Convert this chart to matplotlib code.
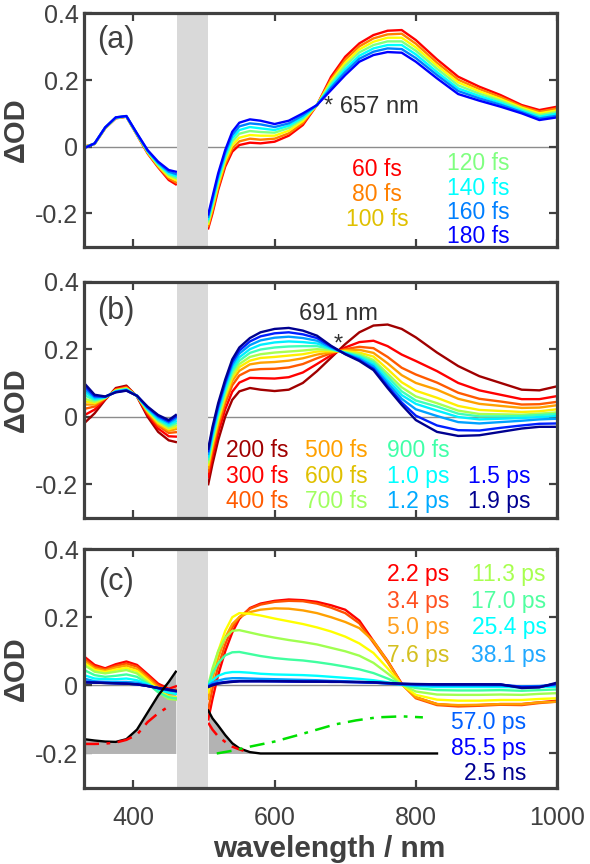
import matplotlib
matplotlib.use('Agg')
import matplotlib.pyplot as plt

plt.rcParams['font.family'] = ['Liberation Sans', 'DejaVu Sans']

# ---------------- data ----------------
WL_LEFT = [330, 345, 360, 375, 390, 405, 420, 435, 450, 460]
WL_RIGHT = [506, 512, 520, 530, 540, 550, 565, 580, 600, 620, 640, 660, 680,
            700, 720, 740, 760, 780, 800, 830, 860, 890, 920, 950, 975, 1000]
BAND = (462, 506)
XTICKS = [400, 600, 800, 1000]
YTICKS = [-0.2, 0, 0.2, 0.4]
YTICKLABELS = ['-0.2', '0', '0.2', '0.4']

# panel (a)
A_LABELS = ['60 fs', '80 fs', '100 fs', '120 fs', '140 fs', '160 fs', '180 fs']
A_LINE_COLORS = ['#ff0000', '#ff8000', '#ffff00', '#80ff80', '#00ffff', '#0080ff', '#0000ff']
A_TEXT_COLORS = ['#ff0000', '#ff8000', '#e0c000', '#80ff80', '#00ffff', '#0080ff', '#0000ff']
A_LEFT = [
    [0.0, 0.008, 0.055, 0.085, 0.09, 0.035, -0.02, -0.062, -0.1, -0.113],
    [0.0, 0.008, 0.056, 0.086, 0.09, 0.036, -0.018, -0.06, -0.095, -0.107],
    [-0.002, 0.009, 0.056, 0.086, 0.091, 0.037, -0.017, -0.057, -0.09, -0.1],
    [-0.002, 0.009, 0.057, 0.087, 0.091, 0.037, -0.015, -0.054, -0.085, -0.094],
    [-0.003, 0.009, 0.057, 0.087, 0.091, 0.038, -0.013, -0.051, -0.08, -0.088],
    [-0.004, 0.01, 0.058, 0.088, 0.092, 0.039, -0.012, -0.048, -0.075, -0.082],
    [-0.005, 0.01, 0.058, 0.088, 0.092, 0.04, -0.01, -0.045, -0.07, -0.075],
]
A_RIGHT = [
    [-0.245, -0.2, -0.13, -0.06, -0.015, 0.005, 0.012, 0.01, 0.015, 0.033, 0.065, 0.125, 0.21,
     0.27, 0.31, 0.335, 0.348, 0.35, 0.32, 0.262, 0.21, 0.18, 0.155, 0.125, 0.11, 0.12],
    [-0.238, -0.192, -0.122, -0.052, -0.005, 0.016, 0.024, 0.021, 0.024, 0.04, 0.071, 0.125, 0.203,
     0.261, 0.301, 0.325, 0.337, 0.339, 0.309, 0.252, 0.201, 0.173, 0.149, 0.121, 0.105, 0.115],
    [-0.231, -0.183, -0.113, -0.043, 0.005, 0.027, 0.035, 0.033, 0.033, 0.048, 0.077, 0.125, 0.197,
     0.252, 0.292, 0.315, 0.327, 0.327, 0.298, 0.243, 0.193, 0.166, 0.143, 0.117, 0.1, 0.109],
    [-0.224, -0.175, -0.105, -0.035, 0.015, 0.039, 0.047, 0.044, 0.042, 0.056, 0.083, 0.125, 0.19,
     0.243, 0.283, 0.305, 0.316, 0.316, 0.288, 0.234, 0.184, 0.159, 0.138, 0.113, 0.095, 0.104],
    [-0.217, -0.167, -0.097, -0.027, 0.025, 0.05, 0.059, 0.055, 0.05, 0.063, 0.088, 0.125, 0.183,
     0.233, 0.273, 0.295, 0.305, 0.305, 0.277, 0.224, 0.175, 0.152, 0.132, 0.108, 0.09, 0.099],
    [-0.21, -0.158, -0.088, -0.018, 0.035, 0.061, 0.07, 0.067, 0.059, 0.07, 0.094, 0.125, 0.177,
     0.224, 0.264, 0.285, 0.295, 0.293, 0.266, 0.215, 0.167, 0.145, 0.126, 0.104, 0.085, 0.093],
    [-0.203, -0.15, -0.08, -0.01, 0.045, 0.072, 0.082, 0.078, 0.068, 0.078, 0.1, 0.125, 0.17,
     0.215, 0.255, 0.275, 0.284, 0.282, 0.255, 0.205, 0.158, 0.138, 0.12, 0.1, 0.08, 0.088],
]

# panel (b)
B_LABELS = ['200 fs', '300 fs', '400 fs', '500 fs', '600 fs', '700 fs',
            '900 fs', '1.0 ps', '1.2 ps', '1.5 ps', '1.9 ps']
B_LINE_COLORS = ['#a00000', '#ff0000', '#ff5a00', '#ffa000', '#ffee00', '#a8ff50',
                 '#40ffb8', '#00f0ff', '#00a0ff', '#0020ff', '#000090']
B_TEXT_COLORS = ['#a00000', '#ff0000', '#ff5a00', '#ffa000', '#e0c000', '#a0ff60',
                 '#40ffa8', '#00ffff', '#00aaff', '#0000ff', '#000090']
B_LEFT = [
    [-0.02, 0.01, 0.05, 0.085, 0.092, 0.06, 0.0, -0.045, -0.07, -0.075],
    [0.004, 0.021, 0.052, 0.082, 0.089, 0.06, 0.006, -0.035, -0.058, -0.059],
    [0.023, 0.03, 0.054, 0.08, 0.087, 0.061, 0.011, -0.027, -0.048, -0.046],
    [0.036, 0.036, 0.055, 0.079, 0.085, 0.061, 0.014, -0.022, -0.042, -0.037],
    [0.046, 0.04, 0.056, 0.078, 0.084, 0.061, 0.017, -0.018, -0.037, -0.031],
    [0.054, 0.044, 0.056, 0.077, 0.083, 0.061, 0.019, -0.014, -0.033, -0.025],
    [0.064, 0.049, 0.057, 0.076, 0.082, 0.061, 0.021, -0.01, -0.028, -0.019],
    [0.074, 0.053, 0.058, 0.075, 0.08, 0.062, 0.023, -0.006, -0.023, -0.013],
    [0.083, 0.057, 0.059, 0.074, 0.079, 0.062, 0.026, -0.002, -0.018, -0.006],
    [0.092, 0.061, 0.059, 0.073, 0.078, 0.062, 0.028, 0.002, -0.014, 0.0],
    [0.1, 0.065, 0.06, 0.072, 0.077, 0.062, 0.03, 0.005, -0.01, 0.005],
]
B_RIGHT = [
    [-0.2, -0.14, -0.07, 0.0, 0.05, 0.075, 0.085, 0.08, 0.076, 0.08, 0.1, 0.135, 0.175,
     0.215, 0.25, 0.27, 0.273, 0.26, 0.235, 0.19, 0.15, 0.12, 0.1, 0.08, 0.078, 0.09],
    [-0.179, -0.118, -0.048, 0.022, 0.074, 0.101, 0.115, 0.114, 0.113, 0.117, 0.131, 0.156, 0.182,
     0.205, 0.221, 0.225, 0.209, 0.184, 0.165, 0.135, 0.1, 0.078, 0.065, 0.052, 0.052, 0.061],
    [-0.162, -0.1, -0.03, 0.04, 0.093, 0.122, 0.138, 0.141, 0.142, 0.146, 0.156, 0.173, 0.188,
     0.2, 0.207, 0.203, 0.177, 0.145, 0.125, 0.101, 0.071, 0.053, 0.045, 0.036, 0.037, 0.044],
    [-0.151, -0.088, -0.018, 0.052, 0.106, 0.136, 0.155, 0.16, 0.162, 0.166, 0.173, 0.184, 0.191,
     0.197, 0.198, 0.189, 0.158, 0.123, 0.1, 0.08, 0.053, 0.038, 0.032, 0.026, 0.027, 0.034],
    [-0.142, -0.08, -0.01, 0.06, 0.116, 0.147, 0.166, 0.174, 0.177, 0.181, 0.185, 0.193, 0.194,
     0.194, 0.19, 0.178, 0.141, 0.102, 0.077, 0.056, 0.032, 0.02, 0.017, 0.014, 0.016, 0.022],
    [-0.135, -0.072, -0.002, 0.068, 0.124, 0.156, 0.177, 0.185, 0.19, 0.193, 0.196, 0.2, 0.197,
     0.192, 0.185, 0.168, 0.128, 0.087, 0.06, 0.04, 0.018, 0.008, 0.007, 0.006, 0.009, 0.013],
    [-0.126, -0.063, 0.007, 0.077, 0.134, 0.166, 0.189, 0.199, 0.205, 0.208, 0.209, 0.209, 0.2,
     0.19, 0.18, 0.162, 0.119, 0.075, 0.048, 0.03, 0.009, 0.001, 0.001, 0.002, 0.005, 0.008],
    [-0.118, -0.054, 0.016, 0.086, 0.144, 0.176, 0.2, 0.213, 0.22, 0.223, 0.221, 0.217, 0.202,
     0.189, 0.176, 0.155, 0.109, 0.064, 0.038, 0.018, -0.001, -0.008, -0.006, -0.004, -0.001, 0.002],
    [-0.11, -0.045, 0.025, 0.095, 0.153, 0.187, 0.212, 0.226, 0.234, 0.237, 0.233, 0.225, 0.205,
     0.187, 0.172, 0.149, 0.1, 0.053, 0.022, 0.002, -0.016, -0.02, -0.016, -0.012, -0.008, -0.006],
    [-0.102, -0.038, 0.032, 0.102, 0.162, 0.196, 0.223, 0.238, 0.247, 0.25, 0.244, 0.233, 0.208,
     0.186, 0.168, 0.142, 0.091, 0.042, 0.003, -0.026, -0.04, -0.041, -0.033, -0.026, -0.021, -0.02],
    [-0.095, -0.03, 0.04, 0.11, 0.17, 0.205, 0.233, 0.25, 0.26, 0.263, 0.255, 0.24, 0.21,
     0.185, 0.165, 0.138, 0.085, 0.035, -0.01, -0.045, -0.057, -0.055, -0.045, -0.035, -0.03, -0.03],
]

# panel (c)
C_LABELS = ['2.2 ps', '3.4 ps', '5.0 ps', '7.6 ps', '11.3 ps', '17.0 ps', '25.4 ps',
            '38.1 ps', '57.0 ps', '85.5 ps', '2.5 ns']
C_LINE_COLORS = ['#ff0000', '#ff5000', '#ffa000', '#ffff00', '#a0ff50', '#40ffa0',
                 '#00ffff', '#00a0ff', '#0050ff', '#0000e0', '#000090']
C_TEXT_COLORS = ['#ff0000', '#ff5020', '#ffa020', '#d4c020', '#a8ff50', '#50ffa0',
                 '#00ffff', '#20a8ff', '#0060ff', '#0000ff', '#000090']
C_LEFT = [
    [0.085, 0.06, 0.05, 0.062, 0.07, 0.06, 0.033, 0.005, -0.01, -0.003],
    [0.078, 0.055, 0.047, 0.057, 0.064, 0.055, 0.028, 0.0, -0.017, -0.013],
    [0.072, 0.05, 0.043, 0.052, 0.058, 0.048, 0.022, -0.006, -0.025, -0.025],
    [0.066, 0.045, 0.039, 0.046, 0.051, 0.042, 0.016, -0.013, -0.033, -0.035],
    [0.06, 0.04, 0.035, 0.04, 0.045, 0.035, 0.01, -0.02, -0.04, -0.042],
    [0.045, 0.03, 0.025, 0.028, 0.032, 0.025, 0.005, -0.02, -0.035, -0.038],
    [0.03, 0.02, 0.018, 0.018, 0.02, 0.015, 0.003, -0.012, -0.022, -0.025],
    [0.02, 0.012, 0.01, 0.01, 0.01, 0.008, 0.0, -0.008, -0.015, -0.018],
    [0.012, 0.008, 0.007, 0.006, 0.005, 0.003, -0.002, -0.008, -0.013, -0.017],
    [0.01, 0.008, 0.007, 0.006, 0.005, 0.003, -0.002, -0.008, -0.013, -0.017],
    [0.008, 0.008, 0.007, 0.006, 0.005, 0.003, -0.002, -0.008, -0.013, -0.016],
]
C_RIGHT = [
    [-0.1, -0.04, 0.03, 0.1, 0.155, 0.195, 0.227, 0.24, 0.248, 0.252, 0.25, 0.245, 0.235,
     0.222, 0.19, 0.13, 0.072, 0.005, -0.035, -0.055, -0.06, -0.058, -0.055, -0.055, -0.05, -0.045],
    [-0.07, -0.01, 0.055, 0.12, 0.17, 0.2, 0.225, 0.237, 0.245, 0.248, 0.247, 0.24, 0.228,
     0.212, 0.182, 0.125, 0.068, 0.004, -0.038, -0.058, -0.062, -0.06, -0.057, -0.058, -0.052, -0.048],
    [-0.04, 0.02, 0.08, 0.14, 0.18, 0.2, 0.215, 0.222, 0.226, 0.225, 0.22, 0.212, 0.2,
     0.186, 0.168, 0.13, 0.07, 0.003, -0.035, -0.055, -0.058, -0.057, -0.055, -0.055, -0.05, -0.048],
    [-0.02, 0.04, 0.1, 0.16, 0.2, 0.212, 0.21, 0.205, 0.196, 0.188, 0.18, 0.17, 0.158,
     0.143, 0.123, 0.095, 0.05, 0.002, -0.028, -0.042, -0.045, -0.045, -0.043, -0.043, -0.04, -0.038],
    [0.0, 0.05, 0.1, 0.14, 0.16, 0.162, 0.155, 0.148, 0.14, 0.133, 0.127, 0.12, 0.11,
     0.1, 0.087, 0.066, 0.035, 0.002, -0.018, -0.027, -0.028, -0.028, -0.027, -0.028, -0.025, -0.023],
    [0.0, 0.035, 0.065, 0.088, 0.097, 0.098, 0.092, 0.086, 0.08, 0.076, 0.073, 0.068, 0.062,
     0.055, 0.047, 0.036, 0.02, 0.002, -0.008, -0.014, -0.015, -0.015, -0.014, -0.016, -0.014, -0.012],
    [0.0, 0.015, 0.028, 0.036, 0.039, 0.039, 0.037, 0.034, 0.032, 0.031, 0.03, 0.028, 0.025,
     0.022, 0.019, 0.015, 0.009, 0.002, -0.002, -0.005, -0.005, -0.005, -0.005, -0.006, -0.005, -0.004],
    [0.0, 0.008, 0.014, 0.019, 0.021, 0.021, 0.02, 0.019, 0.018, 0.017, 0.016, 0.015, 0.013,
     0.012, 0.01, 0.008, 0.005, 0.002, 0.0, -0.001, -0.001, -0.001, -0.001, -0.003, -0.002, 0.0],
    [-0.003, 0.003, 0.007, 0.01, 0.012, 0.013, 0.013, 0.013, 0.012, 0.012, 0.012, 0.011, 0.011,
     0.01, 0.009, 0.008, 0.006, 0.004, 0.003, 0.002, 0.002, 0.002, 0.002, -0.004, -0.003, 0.004],
    [-0.004, 0.002, 0.006, 0.009, 0.011, 0.012, 0.012, 0.012, 0.012, 0.011, 0.011, 0.011, 0.01,
     0.01, 0.009, 0.008, 0.006, 0.004, 0.003, 0.003, 0.003, 0.003, 0.002, -0.006, -0.005, 0.005],
    [-0.005, 0.0, 0.005, 0.008, 0.01, 0.012, 0.012, 0.012, 0.012, 0.012, 0.011, 0.011, 0.011,
     0.01, 0.01, 0.009, 0.007, 0.005, 0.004, 0.003, 0.003, 0.003, 0.003, -0.008, -0.006, 0.008],
]

# steady-state reference spectra in panel (c)
ABS_WL_L = [330, 345, 360, 375, 390, 405, 420, 435, 450, 460]
ABS_L = [-0.158, -0.162, -0.165, -0.166, -0.158, -0.13, -0.08, -0.03, 0.01, 0.04]
ABS_WL_R = [506, 512, 520, 530, 540, 550, 565, 580, 600, 700, 830]
ABS_R = [-0.074, -0.097, -0.118, -0.146, -0.17, -0.185, -0.196, -0.2, -0.2, -0.2, -0.2]
RED_WL_L = [330, 345, 360, 375, 390, 405, 420, 435, 450]
RED_L = [-0.172, -0.172, -0.171, -0.168, -0.16, -0.145, -0.108, -0.082, -0.062]
RED_WL_R = [506, 512, 520, 530, 540, 550, 556]
RED_R = [-0.11, -0.13, -0.15, -0.166, -0.18, -0.188, -0.192]
GREEN_WL = [518, 540, 565, 600, 635, 660, 685, 715, 745, 780, 810]
GREEN = [-0.2, -0.192, -0.18, -0.165, -0.145, -0.13, -0.115, -0.103, -0.094, -0.091, -0.094]
FILL_BASE = -0.2

# ---------------- drawing ----------------
GRAY = '#404040'
fig = plt.figure(figsize=(5.9, 8.64), dpi=100)
POS = [[0.1424, 0.7145, 0.8017, 0.2700],
       [0.1424, 0.4005, 0.8017, 0.2735],
       [0.1424, 0.0885, 0.8017, 0.2760]]
axes = [fig.add_axes(p) for p in POS]


def style(ax, show_x):
    ax.set_xlim(330, 1000)
    ax.set_ylim(-0.3, 0.4)
    ax.axhline(0, color='#8c8c8c', lw=1.0, zorder=1)
    ax.axvspan(BAND[0], BAND[1], color='#d9d9d9', lw=0, zorder=6)
    ax.set_xticks(XTICKS)
    ax.set_yticks(YTICKS)
    ax.set_yticklabels(YTICKLABELS)
    if not show_x:
        ax.set_xticklabels([])
    ax.tick_params(direction='in', length=6, width=1.6, color=GRAY, top=True, right=True,
                   labelsize=18, labelcolor=GRAY)
    ax.tick_params(axis='x', pad=13)
    ax.tick_params(axis='y', pad=4)
    for s in ax.spines.values():
        s.set_linewidth(2.3)
        s.set_color(GRAY)
        s.set_zorder(10)
    ax.set_ylabel('ΔOD', fontsize=21, fontweight='bold', color=GRAY)
    ax.yaxis.set_label_coords(-0.115, 0.5)


def draw_set(ax, left, right, colors):
    for yl, yr, c in zip(left, right, colors):
        ax.plot(WL_LEFT, yl, color=c, lw=1.7, zorder=3)
        ax.plot(WL_RIGHT, yr, color=c, lw=1.7, zorder=3)


TFS = 16.5
# (a)
ax = axes[0]
style(ax, False)
draw_set(ax, A_LEFT, A_RIGHT, A_LINE_COLORS)
ax.text(375, 0.319, '(a)', fontsize=22, color=GRAY, ha='center', va='center')
ax.text(670, 0.119, '* 657 nm', fontsize=17, color='#303030', ha='left', va='center')
a_pos = [(745, -0.069), (745, -0.143), (745, -0.218),
         (889, -0.051), (889, -0.125), (889, -0.197), (889, -0.269)]
for lab, col, (x, y) in zip(A_LABELS, A_TEXT_COLORS, a_pos):
    ax.text(x, y, lab, color=col, fontsize=TFS, ha='center', va='center')

# (b)
ax = axes[1]
style(ax, False)
draw_set(ax, B_LEFT, B_RIGHT, B_LINE_COLORS)
ax.text(375, 0.313, '(b)', fontsize=22, color=GRAY, ha='center', va='center')
ax.text(691, 0.304, '691 nm', fontsize=17, color='#303030', ha='center', va='center')
ax.text(690, 0.215, '*', fontsize=17, color='#303030', ha='center', va='center')
b_pos = [(575, -0.101), (575, -0.176), (575, -0.251),
         (687, -0.101), (687, -0.176), (687, -0.251),
         (803, -0.101), (803, -0.176), (803, -0.251),
         (918, -0.176), (918, -0.251)]
for lab, col, (x, y) in zip(B_LABELS, B_TEXT_COLORS, b_pos):
    ax.text(x, y, lab, color=col, fontsize=TFS, ha='center', va='center')

# (c)
ax = axes[2]
style(ax, True)
ax.fill_between(ABS_WL_L, ABS_L, FILL_BASE, color='#b3b3b3', lw=0, zorder=2)
ax.fill_between(ABS_WL_R, ABS_R, FILL_BASE, color='#b3b3b3', lw=0, zorder=2)
ax.plot(ABS_WL_L, ABS_L, color='black', lw=1.7, zorder=4)
ax.plot(ABS_WL_R, ABS_R, color='black', lw=1.7, zorder=4)
ax.plot(RED_WL_L, RED_L, color='#ff0000', lw=1.8, ls=(0, (6, 3, 1.5, 3)), zorder=4)
ax.plot(RED_WL_R, RED_R, color='#ff0000', lw=1.8, ls=(0, (6, 3, 1.5, 3)), zorder=4)
ax.plot(GREEN_WL, GREEN, color='#00e000', lw=1.8, ls=(0, (6, 3, 1.5, 3)), zorder=4)
draw_set(ax, C_LEFT, C_RIGHT, C_LINE_COLORS)
ax.text(375, 0.303, '(c)', fontsize=22, color=GRAY, ha='center', va='center')
c_pos = [(803, 0.326), (803, 0.246), (803, 0.169), (803, 0.089),
         (932, 0.326), (932, 0.246), (932, 0.169), (932, 0.089)]
for lab, col, (x, y) in zip(C_LABELS[:8], C_TEXT_COLORS[:8], c_pos):
    ax.text(x, y, lab, color=col, fontsize=TFS, ha='center', va='center')
for lab, col, y in zip(C_LABELS[8:], C_TEXT_COLORS[8:], [-0.110, -0.184, -0.258]):
    ax.text(956, y, lab, color=col, fontsize=TFS, ha='right', va='center')
ax.set_xlabel('wavelength / nm', fontsize=21.5, fontweight='bold', color=GRAY)
ax.xaxis.set_label_coords(0.518, -0.197)

fig.savefig('out.png', dpi=100)
